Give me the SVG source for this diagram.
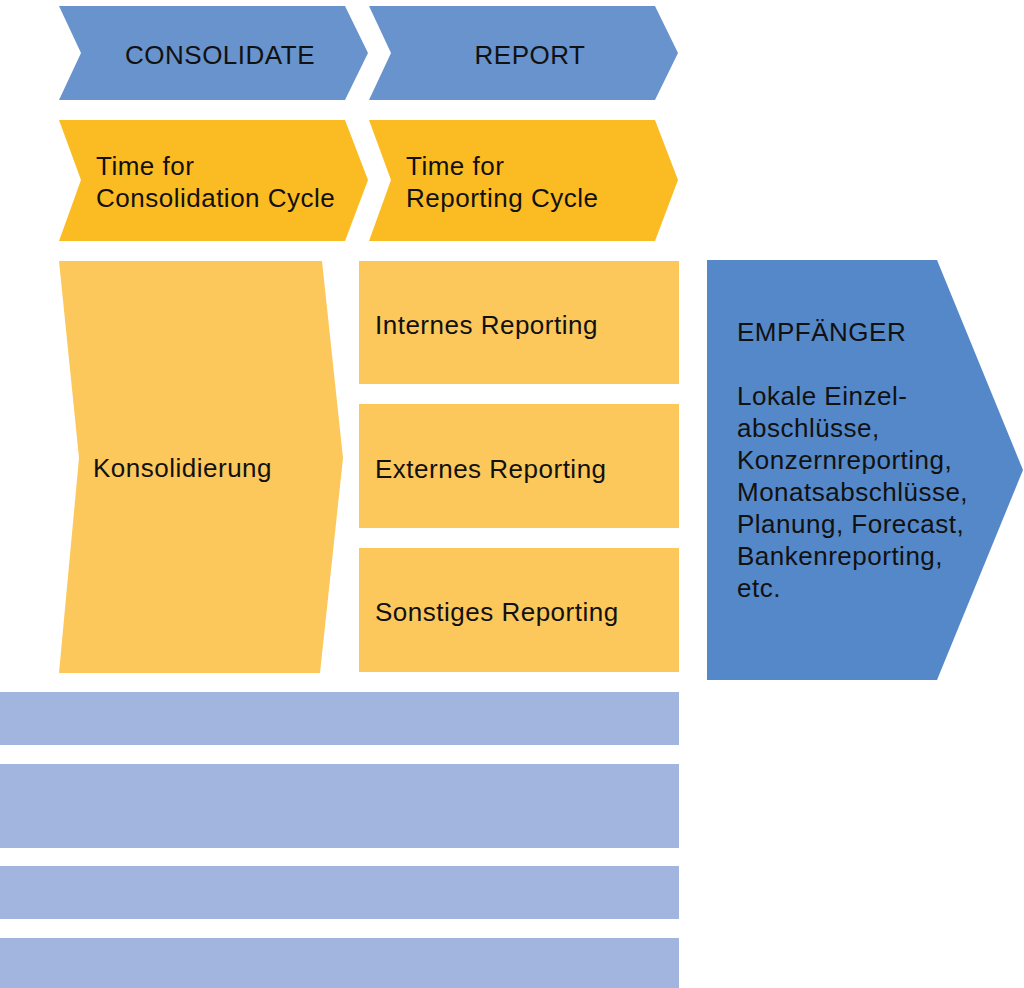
<svg xmlns="http://www.w3.org/2000/svg" width="1024" height="988" viewBox="0 0 1024 988">
<style>
text{font-family:"Liberation Sans",Arial,sans-serif;font-size:26px;letter-spacing:0.5px;fill:#111}
.blue{fill:#6893cc}
.yel{fill:#fbbb22}
.lyel{fill:#fcc85c}
.dblue{fill:#5588c8}
.band{fill:#a2b5df}
</style>
<rect width="1024" height="988" fill="#fff"/>
<g id="consolidate">
<polygon class="blue" points="59,6 345,6 368,53 345,100 59,100 81,53"/>
<text x="220" y="64" text-anchor="middle">CONSOLIDATE</text>
</g>
<g id="report">
<polygon class="blue" points="369,6 655,6 678,53 655,100 369,100 391,53"/>
<text x="530" y="64" text-anchor="middle">REPORT</text>
</g>
<g id="time-consolidation">
<polygon class="yel" points="59,120 345,120 368,180 345,241 59,241 81,180"/>
<text x="96" y="175">Time for</text>
<text x="96" y="207">Consolidation Cycle</text>
</g>
<g id="time-reporting">
<polygon class="yel" points="369,120 655,120 678,180 655,241 369,241 391,180"/>
<text x="406" y="175">Time for</text>
<text x="406" y="207">Reporting Cycle</text>
</g>
<g id="konsolidierung">
<polygon class="lyel" points="59,261 322,261 343,458 320,673 59,673 79,458"/>
<text x="93" y="477">Konsolidierung</text>
</g>
<g id="internes">
<rect class="lyel" x="359" y="261" width="320" height="123"/>
<text x="375" y="334">Internes Reporting</text>
</g>
<g id="externes">
<rect class="lyel" x="359" y="404" width="320" height="124"/>
<text x="375" y="478">Externes Reporting</text>
</g>
<g id="sonstiges">
<rect class="lyel" x="359" y="548" width="320" height="124"/>
<text x="375" y="621">Sonstiges Reporting</text>
</g>
<g id="empfaenger">
<polygon class="dblue" points="707,260 937,260 1023,470 937,680 707,680"/>
<text x="737" y="341">EMPFÄNGER</text>
<text x="737" y="405">Lokale Einzel-</text>
<text x="737" y="437">abschlüsse,</text>
<text x="737" y="469">Konzernreporting,</text>
<text x="737" y="501">Monatsabschlüsse,</text>
<text x="737" y="533">Planung, Forecast,</text>
<text x="737" y="565">Bankenreporting,</text>
<text x="737" y="597">etc.</text>
</g>
<g id="bands">
<rect class="band" x="0" y="692" width="679" height="53"/>
<rect class="band" x="0" y="764" width="679" height="84"/>
<rect class="band" x="0" y="866" width="679" height="53"/>
<rect class="band" x="0" y="938" width="679" height="50"/>
</g>
<g id="connectors"/>
</svg>
